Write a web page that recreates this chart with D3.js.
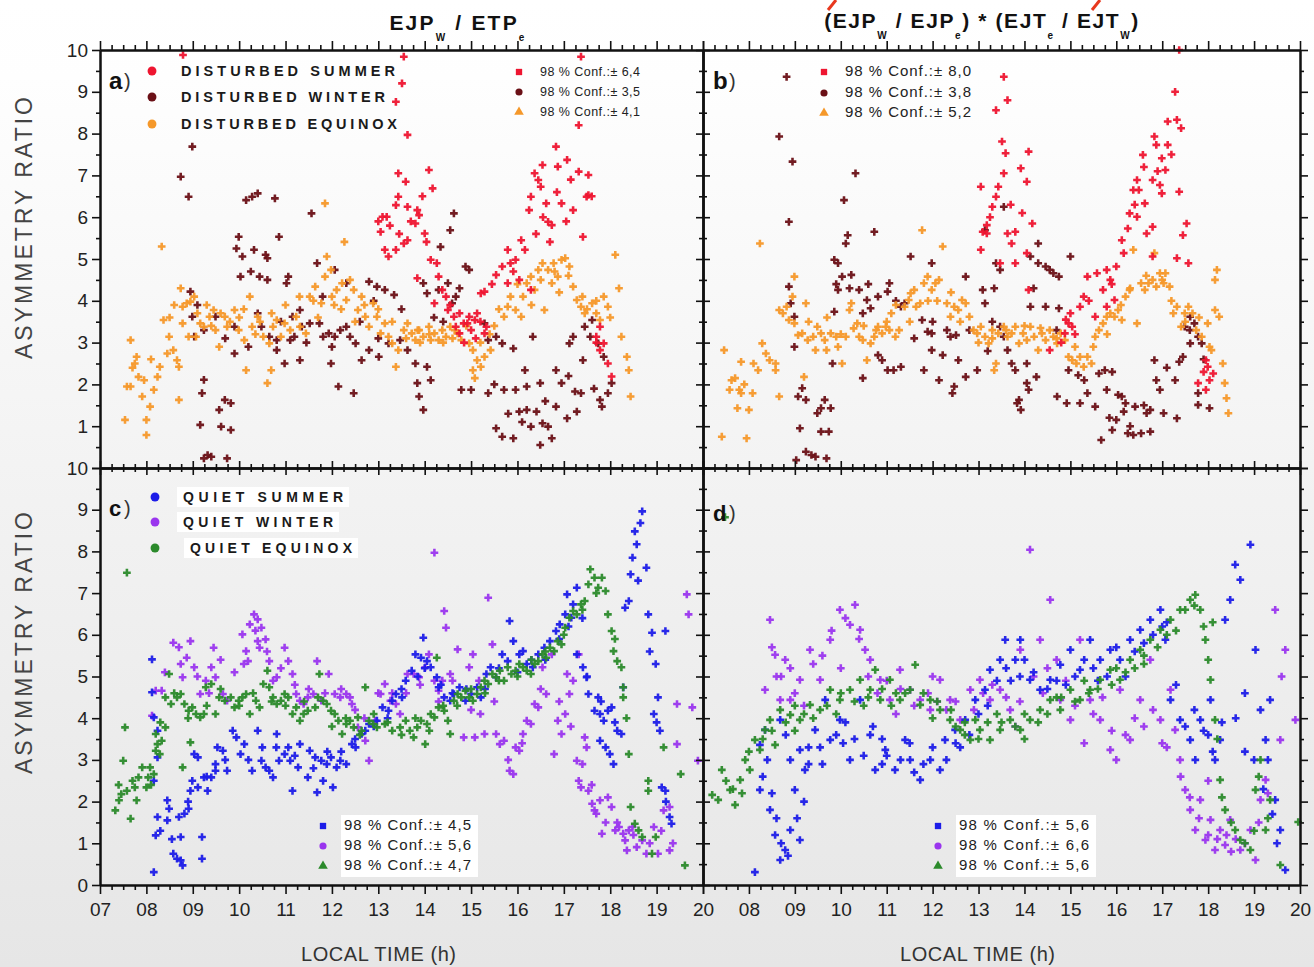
<!DOCTYPE html>
<html><head><meta charset="utf-8">
<script src="https://cdn.jsdelivr.net/npm/d3@7"></script>
<style>html,body{margin:0;padding:0;background:#fff}svg{display:block}</style>
</head><body><svg id="c" width="1314" height="967"></svg>
<script>
// ---------- DATA ----------
const hourTicks = [7,8,9,10,11,12,13,14,15,16,17,18,19,20];
const hourLabelsLeft = ["07","08","09","10","11","12","13","14","15","16","17","18","19","20"];
const hourLabelsRight = ["","08","09","10","11","12","13","14","15","16","17","18","19","20"];
const ratioTicks = [0,1,2,3,4,5,6,7,8,9,10];
const ratioLabelsTop = ["","1","2","3","4","5","6","7","8","9","10"];
const ratioLabelsBottom = ["0","1","2","3","4","5","6","7","8","9","10"];

const disturbedNames = ["DISTURBED SUMMER","DISTURBED WINTER","DISTURBED EQUINOX"];
const quietNames = ["QUIET SUMMER","QUIET WINTER","QUIET EQUINOX"];
const confA = ["6,4","3,5","4,1"];
const confB = ["8,0","3,8","5,2"];
const confC = ["4,5","5,6","4,7"];
const confD = ["5,6","6,6","5,6"];

// Panel a : EJPw / ETPe, disturbed
const dsA = [[8.79,9.88],[13.55,9.84],[13.51,9.2],[13.38,8.76],[13.63,7.97],[17.37,9.84],[17.32,8.2],[16.83,7.69],[16.87,7.21],[17.07,7.37],[16.54,7.25],[16.37,7.05],[16.45,6.89],[16.5,6.73],[16.29,6.49],[16.62,6.33],[16.95,6.33],[17.32,7.09],[17.53,7.01],[17.49,6.49],[17.53,6.53],[17.2,6.17],[16.25,6.17],[16.66,5.89],[16.74,5.81],[16.7,5.41],[17.41,5.53],[16.08,5.45],[16.16,5.22],[15.79,5.22],[15.96,4.98],[15.67,4.82],[15.54,4.62],[15.91,4.7],[15.79,4.42],[16.04,4.5],[16.29,4.26],[15.29,4.22],[15.21,4.18],[15.13,3.7],[14.96,3.62],[14.84,3.46],[14.67,3.38],[14.75,3.22],[15.08,3.54],[15.29,3.22],[15.33,3.38],[17.78,3.38],[17.7,3.14],[17.86,2.98],[17.95,2.5],[18.03,2.19],[17.78,2.82],[13.09,6.01],[13.18,6.01],[13.05,5.65],[13.43,6.49],[13.38,6.29],[13.63,6.25],[13.8,5.85],[13.88,6.05],[13.84,6.17],[14.0,5.61],[14.04,5.41],[13.14,5.22],[13.22,5.06],[13.38,5.22],[13.55,5.37],[13.63,5.45],[14.09,7.13],[14.17,6.69],[13.43,7.05],[13.59,6.85],[14.13,4.98],[14.26,4.9],[14.3,4.58],[13.84,4.54],[14.38,4.26],[14.46,4.1],[14.21,3.94],[14.5,3.78],[14.63,3.62],[14.75,3.7],[14.92,3.46],[15.0,3.3],[15.1,3.1],[14.85,3.0],[13.0,5.9],[17.05,5.9],[16.4,5.6],[17.6,6.5],[13.25,5.8],[13.7,5.9],[13.95,6.5],[16.55,6.0],[16.85,6.6],[17.15,6.9],[15.85,4.9],[15.45,4.4],[14.55,3.9],[15.2,3.5],[13.45,5.6],[17.7,3.0]];
const dwA = [[8.74,6.97],[8.99,7.69],[8.91,6.49],[10.15,6.41],[10.28,6.49],[10.4,6.57],[10.77,6.45],[11.56,6.09],[9.99,5.53],[10.86,5.53],[9.94,5.25],[10.07,5.06],[10.32,5.22],[10.57,5.1],[10.61,5.02],[10.03,4.58],[10.44,4.58],[10.61,4.5],[11.06,4.58],[11.02,4.42],[11.68,4.9],[12.06,4.74],[12.31,4.42],[12.8,4.46],[12.97,4.34],[13.14,4.26],[13.34,4.14],[8.95,4.22],[8.99,3.62],[9.49,3.62],[9.24,3.3],[9.03,3.14],[9.9,3.38],[10.4,3.7],[10.48,3.38],[10.65,3.14],[10.81,3.06],[10.81,2.82],[11.1,3.06],[11.19,3.14],[11.15,3.62],[11.31,3.78],[11.35,3.38],[11.52,3.46],[11.73,3.46],[11.81,3.14],[11.93,3.22],[12.06,3.14],[12.18,3.3],[12.31,3.38],[12.39,3.14],[12.51,2.98],[12.64,2.58],[12.8,2.82],[13.01,2.66],[13.22,2.98],[13.47,3.06],[13.63,2.82],[13.8,2.5],[14.05,2.42],[14.13,2.1],[13.84,2.03],[13.88,1.71],[13.97,1.39],[10.98,2.5],[11.31,2.58],[11.98,2.5],[12.14,1.95],[12.47,1.79],[9.24,2.11],[9.2,1.79],[9.16,1.03],[9.57,1.39],[9.69,1.63],[9.82,1.55],[9.61,0.99],[9.82,0.91],[9.32,0.31],[9.4,0.27],[9.24,0.23],[9.74,0.23],[9.9,2.74],[13.97,4.42],[14.05,4.18],[14.3,4.26],[14.5,4.42],[14.59,3.94],[14.67,4.1],[14.75,4.3],[14.88,4.82],[14.96,4.74],[14.55,5.69],[14.63,6.09],[14.34,5.29],[15.29,3.46],[15.37,3.06],[15.54,3.14],[15.67,2.98],[15.91,2.86],[16.33,3.14],[14.79,1.87],[15.0,1.87],[15.37,1.79],[15.71,1.87],[15.96,1.87],[16.2,1.95],[16.49,2.03],[16.83,2.34],[16.95,2.03],[16.16,2.34],[15.54,0.95],[15.67,0.75],[15.91,0.71],[16.04,1.35],[16.2,1.39],[16.41,1.35],[16.29,0.99],[16.54,1.07],[16.66,0.99],[16.49,0.55],[16.74,0.71],[16.83,1.47],[17.07,1.19],[17.28,1.35],[17.24,1.83],[17.37,1.79],[17.41,2.58],[17.12,2.98],[17.2,3.14],[17.45,3.38],[17.61,3.54],[17.57,3.14],[17.74,2.98],[17.86,2.66],[17.78,1.63],[17.95,1.79],[17.82,1.47],[18.03,2.03],[9.1,3.9],[9.7,3.1],[10.25,4.7],[10.9,3.5],[11.45,3.0],[12.0,2.9],[12.6,3.5],[13.0,3.1],[13.5,3.8],[14.2,3.6],[14.4,3.5],[15.5,2.0],[15.8,1.3],[16.1,1.1],[16.6,1.6],[17.1,2.2],[17.65,1.9],[12.9,4.0],[11.8,4.1],[10.2,2.9]];
const deA = [[7.54,1.15],[7.58,1.95],[7.66,1.95],[7.75,2.5],[7.79,2.66],[7.83,2.18],[7.66,3.06],[7.91,1.71],[8.0,1.15],[8.0,0.79],[8.08,1.47],[8.16,1.87],[8.24,2.18],[8.29,2.42],[8.45,2.74],[8.49,3.14],[8.58,2.82],[8.66,2.58],[8.7,2.42],[8.7,1.63],[8.33,5.3],[8.37,3.54],[8.74,4.3],[8.78,3.86],[8.87,3.94],[8.95,3.98],[9.03,4.1],[8.78,3.46],[8.91,3.14],[9.07,3.14],[9.16,3.46],[9.24,3.38],[9.36,3.62],[9.45,3.78],[9.49,3.3],[9.57,2.9],[9.69,3.62],[9.74,3.38],[9.9,3.78],[9.99,3.3],[10.11,3.06],[10.23,4.1],[10.28,3.38],[10.4,3.62],[10.52,3.14],[10.65,2.98],[10.69,2.34],[10.73,3.38],[10.81,3.54],[10.9,3.14],[10.98,3.46],[10.15,2.34],[10.61,2.03],[11.23,3.62],[11.31,3.38],[11.44,3.22],[11.52,4.1],[11.64,4.34],[11.77,3.94],[11.85,4.58],[11.89,5.06],[11.98,4.74],[12.1,4.26],[12.22,4.42],[12.31,4.02],[12.39,4.5],[12.47,4.26],[12.56,3.78],[12.64,4.1],[12.72,3.62],[12.8,3.38],[12.89,3.94],[12.97,3.62],[13.05,3.22],[13.14,3.46],[13.22,3.14],[13.3,2.98],[13.38,2.42],[13.43,2.82],[11.85,6.33],[12.27,5.41],[13.55,3.3],[13.63,3.46],[13.72,3.22],[13.8,3.06],[13.88,3.3],[13.97,3.14],[14.09,3.38],[14.13,3.06],[14.21,3.22],[14.3,3.06],[14.38,3.3],[14.46,3.14],[14.55,3.38],[14.71,3.22],[14.79,3.06],[14.96,2.98],[15.04,2.82],[15.13,2.58],[15.21,2.42],[15.29,2.66],[15.42,2.82],[15.04,2.34],[15.08,2.15],[15.71,3.62],[15.79,3.86],[15.96,3.78],[16.08,3.62],[16.12,4.1],[16.2,4.42],[16.29,4.58],[16.37,4.26],[16.45,4.74],[16.54,4.9],[16.66,4.74],[16.74,4.42],[16.78,4.9],[16.87,4.58],[16.95,4.98],[17.03,5.02],[17.12,4.82],[17.2,4.34],[17.28,4.02],[17.37,3.86],[17.45,3.7],[17.61,3.94],[17.7,3.7],[17.86,4.1],[17.95,3.86],[17.78,3.54],[18.11,5.1],[18.19,4.3],[18.24,3.14],[18.36,2.66],[18.4,2.34],[18.44,1.71],[16.58,3.78],[9.3,3.9],[9.6,3.7],[10.0,3.6],[10.35,3.2],[11.1,3.3],[11.7,3.6],[12.05,3.9],[12.5,3.5],[13.9,3.0],[14.6,3.1],[15.5,3.4],[16.3,3.9],[16.9,4.2],[8.5,3.6],[8.6,3.9],[9.1,3.7],[9.4,3.4],[9.8,3.5],[10.1,3.8],[10.45,3.5],[10.7,3.7],[11.0,3.9],[11.3,4.1],[11.6,4.0],[12.0,4.1],[12.2,3.8],[12.7,3.9],[13.0,3.8],[13.3,3.5],[13.6,3.1],[13.85,3.3],[14.1,3.2],[14.4,3.0],[14.65,3.3],[14.9,3.4],[15.2,3.0],[15.4,3.2],[15.6,3.8],[15.85,4.1],[16.0,4.4],[16.5,4.5],[16.8,4.7],[17.1,4.6],[17.4,4.1],[17.5,3.8],[17.7,4.0],[18.0,3.6],[8.1,2.6],[7.7,2.4],[7.95,2.1]];

// Panel b : (EJPw/EJPe)*(EJTe/EJTw), disturbed
const dsB = [[13.55,9.36],[13.63,8.8],[13.38,8.56],[13.51,7.81],[13.59,7.53],[13.55,7.05],[14.09,7.57],[13.92,7.17],[14.05,6.85],[13.05,6.73],[13.43,6.73],[13.38,6.49],[13.3,6.25],[13.18,5.81],[13.09,5.65],[13.18,5.61],[13.63,5.61],[13.8,5.65],[13.72,5.37],[14.17,5.85],[13.05,5.22],[13.47,4.9],[13.8,4.9],[14.05,5.14],[14.09,4.26],[17.28,9.0],[17.32,8.33],[17.12,8.29],[17.41,8.13],[16.83,7.93],[16.87,7.73],[17.12,7.73],[16.58,7.49],[16.99,7.41],[17.07,7.13],[16.45,6.89],[16.79,6.89],[16.37,6.65],[16.49,6.65],[16.95,6.77],[16.99,6.57],[17.37,6.61],[16.62,6.33],[16.29,6.09],[16.45,6.01],[16.79,5.77],[16.66,5.61],[17.53,5.85],[17.45,5.57],[16.25,5.73],[16.12,5.45],[16.16,5.14],[17.32,5.02],[17.57,4.9],[16.79,5.06],[16.0,4.82],[15.79,4.74],[15.58,4.66],[15.87,4.5],[15.37,4.58],[15.71,4.26],[15.96,4.02],[15.79,3.86],[15.29,4.1],[15.21,3.86],[15.54,3.62],[15.04,3.38],[14.96,3.46],[14.88,3.22],[14.55,2.82],[17.78,2.03],[18.03,2.1],[17.99,2.42],[17.95,2.58],[18.11,2.26],[17.95,1.87],[17.37,10.0],[14.9,3.55],[15.1,3.2],[13.25,6.0],[13.7,6.3],[13.95,6.1],[16.6,7.2],[16.9,7.1],[17.2,7.5],[16.4,6.3],[15.9,4.4],[15.4,4.0],[15.0,3.7],[14.8,3.0],[17.9,2.3]];
const dwB = [[8.82,9.36],[8.66,7.93],[8.95,7.33],[8.87,5.89],[10.32,7.05],[10.07,6.41],[10.15,5.57],[10.11,5.37],[10.73,5.65],[11.52,5.06],[11.98,4.9],[9.86,4.98],[9.94,4.9],[10.03,4.58],[10.23,4.62],[10.19,4.3],[9.94,4.26],[10.4,4.26],[10.57,4.02],[10.81,4.1],[11.06,4.42],[11.02,4.22],[8.87,4.34],[8.91,3.94],[8.99,3.62],[8.99,2.9],[9.86,3.74],[9.82,2.5],[10.48,3.7],[10.65,3.82],[10.81,2.7],[10.9,2.58],[11.02,2.34],[11.15,2.34],[11.31,2.42],[10.48,2.15],[11.31,3.86],[11.39,3.94],[11.77,3.54],[11.89,3.26],[11.98,3.22],[12.31,3.3],[12.39,3.14],[12.51,3.18],[11.81,2.34],[12.14,2.1],[12.43,1.79],[12.47,1.95],[11.98,2.82],[12.22,2.7],[12.56,2.58],[12.72,2.18],[12.97,2.34],[12.72,4.58],[13.09,4.26],[13.14,3.94],[13.34,4.3],[13.38,4.9],[13.47,4.74],[13.55,6.25],[13.14,5.69],[13.3,3.5],[13.47,3.38],[13.55,3.14],[13.63,2.82],[13.72,2.5],[13.8,2.34],[14.05,2.03],[14.09,1.87],[13.88,1.63],[13.84,1.55],[13.92,1.39],[14.13,5.06],[14.3,4.9],[14.46,4.82],[14.55,4.74],[14.63,4.66],[14.75,4.58],[14.3,5.37],[15.0,5.06],[14.13,3.86],[14.46,3.86],[14.75,3.82],[14.05,2.5],[14.26,2.18],[14.96,2.34],[15.17,2.22],[14.71,1.71],[14.92,1.55],[15.21,1.55],[15.37,1.79],[15.54,1.47],[15.62,2.26],[15.75,2.34],[15.91,2.3],[15.79,1.87],[16.04,1.75],[16.12,1.71],[16.2,1.55],[16.41,1.47],[16.16,1.35],[15.67,0.67],[15.91,0.91],[16.0,1.15],[16.25,0.83],[16.37,0.79],[16.54,0.83],[16.74,0.87],[16.66,1.31],[16.74,1.39],[16.95,1.87],[17.03,1.31],[16.87,2.1],[16.83,2.58],[17.28,2.1],[17.32,1.19],[17.37,2.54],[17.45,2.66],[17.49,3.38],[17.61,3.62],[17.7,3.46],[17.78,3.14],[17.61,2.98],[17.86,2.98],[17.78,1.51],[18.03,1.43],[17.78,1.79],[9.16,1.91],[9.07,1.71],[9.24,1.63],[9.11,0.95],[9.49,1.31],[9.57,1.43],[9.65,1.63],[9.78,1.43],[9.57,0.87],[9.74,0.87],[9.24,0.39],[9.36,0.31],[9.45,0.27],[9.69,0.23],[9.03,0.19],[9.9,4.4],[10.6,4.4],[11.2,4.0],[11.6,3.1],[12.0,3.5],[12.8,3.3],[13.2,2.8],[14.2,4.3],[14.7,3.3],[15.3,2.1],[15.85,1.2],[16.3,1.0],[16.6,1.5],[17.1,2.4],[17.6,3.3],[17.9,2.6]];
const deB = [[7.46,2.82],[7.41,0.75],[7.62,2.1],[7.7,2.15],[7.58,1.87],[7.79,1.87],[7.83,1.79],[7.75,1.43],[8.0,1.39],[8.08,1.79],[7.95,0.71],[7.83,2.54],[8.24,5.37],[8.2,2.34],[8.29,2.98],[8.37,2.74],[8.45,2.58],[8.58,2.5],[8.58,2.34],[8.66,1.71],[8.66,3.78],[8.74,3.7],[8.82,3.86],[8.87,3.54],[8.99,3.46],[8.99,4.58],[8.95,4.1],[9.07,3.18],[9.16,3.22],[9.2,2.18],[9.24,3.94],[9.28,3.06],[9.4,3.14],[9.45,2.82],[9.49,3.38],[9.57,3.22],[9.65,3.06],[9.69,2.82],[9.78,3.22],[9.9,3.14],[9.94,2.9],[10.03,2.5],[10.11,3.14],[10.19,3.78],[10.23,3.94],[10.28,3.34],[10.36,3.46],[10.4,3.14],[10.48,3.06],[10.57,2.58],[10.65,2.98],[10.73,3.14],[10.77,3.3],[10.81,3.38],[10.9,3.22],[10.98,3.38],[11.06,3.3],[11.1,3.7],[11.19,3.14],[11.27,3.3],[11.39,3.86],[11.48,4.02],[11.52,4.18],[11.6,4.26],[11.64,3.86],[11.73,3.94],[11.77,5.69],[11.81,4.42],[11.89,4.58],[11.98,4.26],[12.06,4.42],[12.14,4.5],[12.22,5.3],[12.31,3.94],[12.39,3.62],[12.47,3.86],[12.56,3.78],[12.64,4.02],[12.72,3.94],[12.8,3.62],[12.89,3.3],[12.97,3.22],[13.05,3.38],[13.14,3.14],[13.22,2.98],[13.3,3.3],[13.34,2.34],[13.38,2.5],[13.43,3.22],[13.55,3.38],[13.63,3.14],[13.72,3.22],[13.8,3.38],[13.88,2.98],[13.97,3.22],[14.05,3.06],[14.13,3.38],[14.21,3.14],[14.3,2.82],[14.38,3.22],[14.46,3.06],[14.55,3.3],[14.63,3.14],[14.71,2.98],[14.79,3.22],[14.88,3.06],[14.96,2.66],[15.04,2.58],[15.13,2.5],[15.21,2.66],[15.29,2.42],[15.37,2.66],[15.46,2.5],[15.54,3.14],[15.62,3.3],[15.71,3.46],[15.79,3.62],[15.87,3.7],[15.96,3.62],[16.04,3.78],[16.12,3.54],[16.2,4.1],[16.29,4.26],[16.37,5.22],[16.45,3.46],[16.54,4.42],[16.62,4.26],[16.7,4.42],[16.79,4.5],[16.83,5.14],[16.87,4.34],[16.95,4.66],[17.03,4.42],[17.07,4.66],[17.16,4.34],[17.24,3.7],[17.32,3.86],[17.41,3.38],[17.49,3.7],[17.57,3.86],[17.66,3.7],[17.74,3.3],[17.86,3.14],[18.03,2.9],[18.15,3.78],[18.24,3.62],[18.15,4.5],[18.19,4.74],[18.32,2.5],[18.36,2.03],[18.4,1.67],[18.44,1.31],[17.99,3.46],[18.07,2.82],[9.3,3.5],[9.7,3.6],[10.0,3.2],[10.5,3.4],[11.0,3.5],[11.2,3.9],[11.5,3.5],[11.9,4.0],[12.1,4.0],[12.4,4.2],[12.6,3.5],[13.0,3.0],[13.3,3.1],[13.6,3.3],[14.0,3.4],[14.35,3.35],[14.7,3.1],[15.1,2.9],[15.5,2.9],[15.8,3.2],[16.1,3.9],[16.3,4.3],[16.65,4.6],[17.0,4.5],[17.2,4.0],[17.5,3.5],[17.8,3.6],[7.9,2.0],[8.1,2.5]];

// Panel c : EJPw / ETPe, quiet
const qsC = [[8.12,5.41],[8.12,4.62],[8.16,4.02],[8.24,3.7],[8.24,3.06],[8.16,2.5],[8.24,1.63],[8.2,1.19],[8.16,0.31],[8.45,2.03],[8.49,1.83],[8.45,1.55],[8.58,0.75],[8.66,0.63],[8.74,0.59],[8.78,0.47],[8.7,1.63],[8.74,1.15],[8.82,1.71],[8.91,1.83],[8.95,2.26],[8.99,2.5],[9.03,3.14],[9.11,3.06],[9.2,1.15],[9.2,0.63],[9.11,2.34],[9.24,2.58],[9.32,2.26],[9.4,2.58],[9.49,2.74],[9.49,2.9],[9.53,3.3],[9.65,3.22],[9.74,2.74],[9.86,3.7],[9.94,3.54],[10.03,3.14],[10.11,3.38],[10.28,2.74],[10.4,3.7],[10.48,2.98],[10.57,2.82],[10.65,2.74],[10.73,2.58],[10.81,3.62],[10.86,2.98],[10.98,3.14],[11.06,3.3],[11.1,2.98],[11.15,2.26],[11.27,2.82],[11.31,3.38],[11.48,2.58],[11.52,3.22],[11.64,3.06],[11.68,2.22],[11.77,2.98],[11.81,2.5],[11.89,2.9],[11.98,3.06],[12.02,2.34],[12.1,2.82],[12.18,2.98],[12.31,2.9],[12.43,3.38],[12.51,3.3],[12.64,3.62],[12.72,3.7],[12.8,3.86],[12.97,3.94],[13.09,4.26],[13.22,4.18],[13.3,4.42],[13.38,4.58],[13.51,4.5],[13.59,4.9],[13.72,5.14],[13.8,5.53],[13.92,5.45],[13.97,5.93],[14.05,5.37],[14.13,5.22],[14.26,4.98],[14.3,4.74],[14.42,4.5],[14.55,4.42],[14.63,4.58],[14.75,4.74],[14.88,4.42],[15.0,4.58],[15.13,4.74],[15.21,4.5],[15.33,5.06],[15.42,5.22],[15.54,4.98],[15.67,5.53],[15.79,5.37],[15.83,6.33],[15.91,5.85],[16.04,5.53],[16.12,5.61],[16.2,5.3],[16.33,5.22],[16.45,5.53],[16.58,5.69],[16.7,5.85],[16.83,6.09],[16.91,6.25],[17.03,6.49],[17.07,6.97],[17.2,6.73],[17.28,7.13],[17.16,6.41],[17.28,5.53],[17.41,5.22],[17.49,4.98],[17.53,4.58],[17.66,4.18],[17.74,4.5],[17.78,4.1],[17.86,3.94],[17.95,4.18],[18.03,4.26],[17.78,3.46],[17.9,3.3],[17.99,3.14],[18.07,2.9],[18.15,3.7],[18.24,3.62],[18.28,4.74],[18.32,6.65],[18.4,6.81],[18.44,7.45],[18.48,7.85],[18.57,8.17],[18.53,8.48],[18.65,8.68],[18.69,8.96],[18.78,7.61],[18.82,6.49],[18.9,6.05],[18.98,5.3],[19.03,4.5],[18.94,4.1],[19.07,3.7],[19.19,6.09],[19.11,2.34],[19.19,2.26],[19.28,1.63],[19.32,1.47],[8.3,1.3],[8.55,1.1],[8.9,2.0],[9.3,2.6],[9.7,3.0],[10.2,3.0],[10.5,3.3],[10.8,3.3],[11.2,3.1],[11.6,2.8],[11.9,3.2],[12.2,3.2],[12.5,3.5],[12.9,3.8],[13.2,4.0],[13.5,4.7],[13.85,5.0],[14.0,5.2],[14.35,4.8],[14.6,4.6],[14.9,4.7],[15.3,4.7],[15.6,5.2],[16.0,5.1],[16.3,5.4],[16.6,5.4],[16.9,5.9],[17.1,6.2],[17.4,6.4],[17.5,5.0],[17.8,4.4],[18.1,3.9],[18.6,7.3],[18.85,5.6],[19.0,3.9],[19.2,2.0]];
const qwC = [[8.12,4.06],[8.2,4.66],[8.33,4.66],[8.58,5.81],[8.74,5.3],[8.87,5.45],[8.95,5.85],[9.03,5.22],[8.78,4.98],[9.16,4.58],[9.28,4.9],[9.4,5.22],[9.45,5.69],[9.49,4.98],[9.65,4.58],[9.74,4.42],[10.07,6.01],[10.15,5.61],[10.19,5.37],[10.23,6.25],[10.32,6.49],[10.4,6.37],[10.48,6.17],[10.57,5.89],[10.4,5.85],[10.44,5.69],[10.65,5.37],[10.73,4.9],[10.81,4.98],[10.98,5.69],[11.06,5.37],[11.15,5.06],[11.23,4.58],[11.31,4.42],[11.39,4.34],[11.48,4.5],[11.6,4.58],[11.68,5.37],[11.77,4.42],[11.93,5.06],[12.06,4.58],[12.18,4.5],[12.31,4.58],[12.39,4.5],[12.43,4.34],[12.56,3.78],[12.72,3.46],[12.8,2.98],[12.93,3.94],[13.05,4.58],[13.14,4.82],[13.26,4.42],[13.38,4.34],[13.47,4.1],[13.63,5.06],[13.76,5.06],[13.88,4.98],[14.01,5.22],[14.09,5.53],[14.21,7.97],[14.21,4.9],[14.3,4.66],[14.38,4.9],[14.42,6.57],[14.46,6.17],[14.55,5.06],[14.71,5.65],[14.84,3.54],[14.96,5.22],[15.04,5.53],[15.08,3.54],[15.17,4.9],[15.29,3.62],[15.37,6.89],[15.46,5.77],[15.54,3.62],[15.62,3.38],[15.71,3.46],[15.83,2.74],[15.91,2.66],[15.96,3.3],[16.04,3.22],[16.12,3.62],[16.2,3.94],[16.29,3.86],[16.37,4.34],[16.45,4.26],[16.54,5.22],[16.62,4.58],[16.74,5.53],[16.79,3.14],[16.87,3.94],[16.95,3.62],[17.03,4.1],[17.07,5.06],[17.12,4.58],[17.2,4.9],[17.32,5.53],[17.28,2.98],[17.32,2.5],[17.37,2.34],[17.45,3.54],[17.49,3.3],[17.53,2.26],[17.61,1.95],[17.66,1.79],[17.7,1.71],[17.78,2.03],[17.82,1.23],[17.95,2.1],[18.03,1.87],[18.11,1.31],[18.19,1.39],[18.28,1.23],[18.32,1.07],[18.4,1.31],[18.48,1.39],[18.36,0.83],[18.57,0.91],[18.69,1.07],[18.78,0.75],[18.94,1.39],[19.03,0.75],[19.15,1.79],[19.28,1.87],[19.28,0.83],[19.44,3.38],[19.44,4.34],[19.65,6.97],[19.69,6.49],[19.77,4.26],[19.89,2.98],[8.4,5.1],[8.7,5.7],[9.1,5.0],[9.35,4.6],[9.6,5.4],[9.9,5.1],[10.1,5.3],[10.35,6.1],[10.6,5.6],[10.9,5.2],[11.2,4.8],[11.5,4.7],[11.85,4.6],[12.2,4.7],[12.5,4.2],[12.7,4.0],[13.0,4.6],[13.3,4.6],[13.6,4.6],[13.9,4.8],[14.3,4.4],[14.6,4.9],[15.0,4.2],[15.2,4.1],[15.5,4.4],[15.8,3.0],[16.1,3.4],[16.5,4.7],[16.9,4.4],[17.15,3.8],[17.4,2.9],[17.6,2.4],[17.9,1.5],[18.15,1.5],[18.5,1.2],[18.85,1.0],[19.1,1.3],[19.35,1.0]];
const qeC = [[7.58,7.49],[7.54,3.78],[7.5,2.98],[7.33,1.79],[7.41,2.03],[7.46,2.18],[7.58,2.26],[7.66,1.59],[7.75,2.34],[7.79,2.03],[7.83,2.58],[7.91,2.82],[8.0,2.34],[8.04,2.58],[8.08,2.82],[8.16,2.66],[8.2,3.22],[8.2,3.62],[8.24,3.38],[8.29,3.14],[8.33,3.46],[8.41,3.78],[8.41,4.5],[8.49,5.06],[8.53,4.34],[8.66,4.5],[8.74,4.58],[8.78,2.82],[8.82,4.34],[8.91,4.18],[8.99,4.26],[8.95,3.42],[9.07,4.1],[9.16,4.02],[9.24,4.1],[9.28,4.74],[9.4,4.82],[9.49,4.1],[9.57,4.5],[9.69,4.42],[9.82,4.5],[9.9,4.26],[9.99,4.42],[10.07,4.5],[10.15,4.58],[10.23,4.1],[10.36,4.42],[10.44,4.26],[10.52,4.82],[10.61,5.14],[10.65,4.74],[10.73,4.5],[10.81,4.34],[10.9,4.42],[10.98,4.58],[11.06,4.5],[11.15,4.1],[11.23,4.26],[11.31,3.94],[11.39,4.1],[11.48,4.18],[11.64,4.26],[11.73,5.06],[11.81,4.42],[11.89,4.34],[11.98,4.18],[12.06,4.1],[12.14,3.94],[12.22,3.62],[12.31,3.86],[12.39,3.94],[12.47,3.78],[12.56,4.02],[12.64,3.7],[12.72,4.74],[12.8,3.94],[12.89,3.86],[12.97,3.78],[13.14,3.86],[13.3,3.7],[13.47,3.78],[13.59,3.94],[13.68,3.7],[13.76,3.54],[13.84,3.78],[13.92,3.94],[14.01,3.38],[14.05,3.86],[14.13,4.1],[14.21,4.02],[14.26,5.45],[14.3,4.26],[14.42,4.18],[14.5,3.94],[14.55,3.62],[14.63,4.42],[14.71,4.58],[14.79,4.5],[14.88,4.66],[14.96,4.5],[15.04,4.42],[15.13,4.58],[15.21,4.74],[15.29,4.9],[15.37,4.82],[15.46,5.06],[15.54,4.98],[15.62,5.14],[15.71,4.9],[15.79,5.22],[15.87,5.06],[15.96,5.14],[16.04,5.3],[16.12,5.22],[16.2,5.14],[16.29,5.06],[16.37,5.3],[16.45,5.37],[16.54,5.53],[16.62,5.45],[16.7,5.69],[16.79,5.61],[16.87,5.85],[16.95,5.77],[17.03,6.17],[17.12,6.41],[17.2,6.57],[17.28,6.49],[17.37,6.73],[17.45,6.81],[17.53,7.21],[17.57,7.57],[17.66,7.37],[17.74,7.13],[17.82,7.37],[17.9,7.05],[17.95,6.49],[18.03,6.09],[18.07,5.61],[18.15,5.37],[18.24,5.22],[18.28,4.74],[18.28,4.5],[18.4,3.14],[18.44,1.87],[18.53,1.47],[18.61,1.31],[18.69,1.15],[18.82,2.5],[18.82,2.26],[18.9,0.75],[18.98,1.15],[19.15,3.3],[19.52,2.66],[19.61,0.47],[7.4,2.4],[7.7,2.5],[8.1,2.4],[8.3,3.9],[8.6,4.6],[8.9,4.0],[9.3,4.3],[9.6,4.7],[10.0,4.3],[10.3,4.6],[10.7,4.4],[11.0,4.3],[11.4,4.4],[11.7,4.5],[12.0,3.8],[12.3,4.0],[12.6,3.6],[12.9,4.1],[13.2,3.9],[13.5,3.6],[13.8,4.0],[14.1,3.7],[14.4,4.3],[14.7,4.3],[15.0,4.7],[15.3,4.6],[15.6,4.9],[16.0,5.0],[16.3,5.4],[16.6,5.6],[17.0,6.0],[17.4,6.6],[17.7,7.0],[18.1,5.9],[18.35,4.0]];

// Panel d : (EJPw/EJPe)*(EJTe/EJTw), quiet
const qsD = [[8.13,0.31],[8.46,1.8],[8.57,1.2],[8.68,0.6],[8.79,0.84],[8.24,2.28],[8.9,1.32],[9.11,1.08],[9.0,2.28],[9.22,2.76],[8.24,3.36],[8.35,3.72],[8.68,3.96],[8.9,3.0],[9.11,3.24],[9.44,3.72],[9.66,4.44],[9.77,3.48],[9.98,3.96],[10.2,3.0],[10.42,4.44],[10.64,3.6],[10.75,2.76],[10.97,3.24],[11.18,2.76],[11.4,3.48],[11.51,3.0],[11.73,2.52],[11.95,3.0],[12.16,2.76],[12.27,3.48],[12.49,3.72],[12.71,3.96],[12.93,4.44],[13.14,4.68],[13.25,5.16],[13.47,5.4],[13.58,5.88],[13.8,5.4],[13.91,5.88],[14.12,4.92],[14.34,4.68],[14.56,4.92],[14.78,5.28],[15.0,5.64],[15.21,5.16],[15.43,5.88],[15.65,5.4],[15.87,5.64],[16.08,5.4],[16.3,5.88],[16.52,6.12],[16.74,6.36],[16.96,6.6],[17.07,5.88],[17.18,4.44],[17.39,3.96],[17.61,3.48],[17.72,3.0],[17.83,3.96],[18.05,4.44],[18.15,3.0],[18.26,3.48],[18.37,6.36],[18.48,6.84],[18.59,7.68],[18.7,7.32],[18.92,8.16],[19.03,5.64],[19.14,4.2],[19.25,3.48],[19.35,4.44],[19.46,2.04],[19.57,1.32],[19.68,0.36],[9.3,2.9],[9.55,3.3],[10.05,3.4],[10.9,2.9],[11.6,2.7],[12.6,3.3],[13.7,4.9],[14.9,4.8],[15.6,4.9],[16.2,5.0],[17.0,6.2],[18.0,3.6],[18.8,4.6],[19.2,2.3],[8.3,2.6],[8.5,2.2],[8.6,1.6],[8.7,1.0],[8.85,0.7],[9.05,1.6],[9.2,2.0],[8.4,3.0],[8.8,3.6],[9.3,3.3],[9.6,2.9],[9.9,3.6],[10.1,3.9],[10.3,3.5],[10.5,3.1],[10.7,3.8],[10.9,3.5],[11.0,3.1],[11.3,3.0],[11.5,3.4],[11.8,2.9],[12.0,3.3],[12.3,3.0],[12.5,3.4],[12.8,3.6],[13.0,4.1],[13.2,4.3],[13.4,4.9],[13.6,5.2],[13.9,5.0],[14.0,5.4],[14.2,5.1],[14.5,4.7],[14.7,4.9],[15.1,5.0],[15.3,5.4],[15.5,5.2],[15.8,5.0],[16.0,5.7],[16.4,5.6],[16.6,5.8],[16.8,6.0],[17.1,6.3],[17.3,4.8],[17.5,3.8],[17.7,4.2],[17.9,3.7],[18.1,3.2],[18.3,3.9],[18.6,4.0],[18.8,3.2],[19.0,3.0],[19.3,3.0],[19.4,1.7],[19.5,1.0]];
const qwD = [[8.46,6.36],[8.57,5.52],[8.79,5.4],[8.9,4.44],[8.35,4.68],[8.68,4.44],[9.11,4.92],[9.33,5.64],[9.55,4.92],[9.77,5.88],[9.98,6.6],[10.2,6.24],[10.31,6.72],[10.42,6.12],[10.53,5.64],[10.64,5.4],[10.86,4.92],[11.07,4.44],[11.29,5.16],[11.51,4.68],[11.73,4.44],[11.95,4.2],[12.16,4.92],[12.38,4.44],[12.6,3.96],[12.82,4.68],[13.03,4.92],[13.25,4.44],[13.47,4.68],[13.69,4.2],[13.91,5.64],[14.12,8.04],[14.34,5.88],[14.56,6.84],[14.78,4.44],[15.0,3.96],[15.21,5.88],[15.43,4.44],[15.65,3.96],[15.87,3.24],[16.08,4.68],[16.3,3.48],[16.52,4.44],[16.74,5.4],[16.96,3.96],[17.18,4.68],[17.28,3.72],[17.39,3.0],[17.5,2.28],[17.61,1.8],[17.72,1.32],[17.83,2.04],[17.94,1.08],[18.05,1.56],[18.15,0.84],[18.26,1.32],[18.37,0.96],[18.48,1.56],[18.7,0.84],[18.92,1.32],[19.03,0.6],[19.14,2.04],[19.25,2.52],[19.46,6.6],[19.57,3.48],[19.68,5.64],[19.9,3.96],[8.6,5.0],[9.2,4.3],[10.0,5.2],[11.2,4.1],[12.0,5.0],[13.8,3.8],[14.5,5.2],[15.3,3.4],[16.0,3.0],[16.6,3.8],[17.1,3.3],[18.0,2.5],[18.6,1.1],[8.5,5.7],[8.7,5.0],[8.9,5.2],[9.0,4.6],[9.4,5.3],[9.6,5.5],[9.8,6.1],[10.1,6.4],[10.4,5.9],[10.6,5.0],[10.8,4.6],[11.0,4.9],[11.3,4.7],[11.6,4.3],[11.9,4.6],[12.1,4.4],[12.3,4.2],[12.5,4.4],[12.9,4.2],[13.1,4.6],[13.3,4.8],[13.6,4.5],[13.9,4.4],[14.2,5.0],[14.4,4.6],[14.7,5.4],[14.9,4.9],[15.1,4.3],[15.5,4.1],[15.7,4.5],[15.9,3.7],[16.2,3.6],[16.4,4.0],[16.8,4.2],[17.0,3.4],[17.4,2.6],[17.6,2.1],[17.8,1.6],[18.0,1.2],[18.2,1.1],[18.4,1.2],[18.5,0.8],[18.8,1.0],[19.1,1.5],[19.3,2.2],[19.6,5.0]];
const qeD = [[7.2,2.16],[7.33,2.04],[7.41,2.76],[7.59,2.28],[7.7,1.92],[7.81,2.52],[7.92,3.0],[8.02,2.76],[8.13,3.48],[8.24,3.24],[8.35,3.72],[8.46,3.96],[8.57,3.36],[8.68,4.2],[8.9,4.08],[9.11,3.96],[9.33,4.32],[9.55,4.2],[9.77,4.68],[9.98,4.44],[10.2,4.68],[10.42,4.92],[10.64,4.68],[10.75,5.16],[10.86,4.44],[11.07,4.92],[11.29,4.44],[11.51,4.68],[11.62,5.28],[11.73,4.32],[11.95,4.44],[12.16,4.2],[12.38,3.96],[12.6,3.72],[12.82,3.48],[12.93,3.96],[13.03,3.72],[13.25,3.48],[13.47,3.72],[13.69,3.96],[13.91,3.72],[14.12,3.96],[14.34,4.2],[14.56,4.44],[14.78,4.2],[15.0,4.68],[15.21,4.44],[15.43,4.68],[15.65,4.92],[15.87,5.16],[16.08,4.92],[16.3,5.4],[16.52,5.64],[16.74,5.88],[16.96,6.12],[17.18,6.36],[17.39,6.6],[17.61,6.84],[17.72,6.96],[17.83,6.6],[17.94,5.88],[18.05,4.92],[18.15,3.96],[18.26,2.52],[18.37,1.8],[18.59,1.32],[18.7,1.08],[18.92,0.84],[19.03,2.28],[19.14,3.0],[19.25,1.32],[19.35,2.04],[19.57,0.48],[19.96,1.51],[7.48,8.82],[9.0,3.7],[9.9,4.1],[10.5,4.3],[11.2,4.6],[12.0,4.0],[12.7,3.9],[13.4,4.1],[14.0,3.5],[14.7,4.5],[15.3,4.9],[16.0,5.2],[16.6,5.3],[17.3,6.1],[18.1,6.3],[7.5,2.5],[7.65,2.3],[7.85,2.2],[8.0,3.2],[8.3,3.5],[8.5,3.7],[8.8,3.9],[9.0,4.3],[9.2,4.1],[9.4,4.0],[9.7,4.3],[10.0,4.6],[10.3,4.4],[10.6,4.5],[10.9,4.7],[11.1,4.3],[11.4,4.6],[11.8,4.6],[12.1,4.4],[12.4,4.2],[12.5,3.8],[12.7,3.6],[13.0,3.5],[13.2,3.9],[13.5,3.9],[13.8,3.8],[14.0,4.1],[14.3,3.9],[14.5,4.1],[14.8,4.5],[15.1,4.4],[15.4,4.6],[15.6,4.7],[15.9,4.8],[16.2,5.1],[16.4,5.2],[16.6,5.5],[16.9,5.7],[17.1,6.0],[17.5,6.6],[17.7,6.7],[17.9,6.2],[18.0,5.4],[18.2,3.5],[18.3,2.1],[18.5,1.5],[18.8,1.0],[19.0,1.3],[19.1,2.6],[19.3,1.6]];

// ---------- DRAW ----------
const svg = d3.select("#c");
const FONT = "'Liberation Sans', Arial, sans-serif";
const defs = svg.append("defs");
const grad = defs.append("linearGradient").attr("id","bg").attr("x1",0).attr("y1",0).attr("x2",0).attr("y2",1);
[["0","#ffffff"],["0.08","#fefefe"],["0.48","#f3f3f3"],["1","#e6e6e6"]].forEach(s=>grad.append("stop").attr("offset",s[0]).attr("stop-color",s[1]));
svg.append("rect").attr("width",1314).attr("height",967).attr("fill","url(#bg)");

const xL = d3.scaleLinear().domain([7,20]).range([100,703]);
const xR = d3.scaleLinear().domain([7,20]).range([703,1300]);
const yT = d3.scaleLinear().domain([0,10]).range([468,50]);
const yB = d3.scaleLinear().domain([0,10]).range([885,468]);

const col = {ds:"#ee1530", dw:"#6a1016", de:"#f5982a", qs:"#1c1ce8", qw:"#9a35ee", qe:"#2b8a2b"};
const cross = d3.symbol().type(d3.symbolCross).size(33);
function plot(data, x, y, color){
  svg.append("g").selectAll("path").data(data).join("path")
    .attr("d", cross)
    .attr("transform", d=>`translate(${x(d[0]).toFixed(1)},${y(d[1]).toFixed(1)})`)
    .attr("fill", color).attr("opacity",0.95);
}
plot(dwA,xL,yT,col.dw); plot(deA,xL,yT,col.de); plot(dsA,xL,yT,col.ds);
plot(dwB,xR,yT,col.dw); plot(deB,xR,yT,col.de); plot(dsB,xR,yT,col.ds);
plot(qwC,xL,yB,col.qw); plot(qsC,xL,yB,col.qs); plot(qeC,xL,yB,col.qe);
plot(qwD,xR,yB,col.qw); plot(qsD,xR,yB,col.qs); plot(qeD,xR,yB,col.qe);

// ---------- AXES ----------
const quarter = d3.range(7,20.001,0.25).filter(v=>Math.abs(v-Math.round(v))>0.01);
const halves = d3.range(0.5,10,1);
function styleAxis(g){
  g.select(".domain").attr("stroke","#111").attr("stroke-width",2);
  g.selectAll(".tick line").attr("stroke","#111").attr("stroke-width",1.6);
  g.selectAll(".tick text").attr("font-family",FONT).attr("font-size",19).attr("fill","#222");
  return g;
}
function ax(gen, tx, ty){ return styleAxis(svg.append("g").attr("transform",`translate(${tx},${ty})`).call(gen)); }

[xL,xR].forEach((x,i)=>{
  const labels = i===0 ? hourLabelsLeft : hourLabelsRight;
  ax(d3.axisBottom(x).tickValues(hourTicks).tickSizeInner(9).tickSizeOuter(0).tickPadding(9).tickFormat((d,j)=>labels[j]),0,885);
  ax(d3.axisBottom(x).tickValues(quarter).tickSizeInner(5).tickSizeOuter(0).tickFormat(""),0,885);
  ax(d3.axisTop(x).tickValues(hourTicks).tickSizeInner(9).tickSizeOuter(0).tickFormat(""),0,50);
  ax(d3.axisTop(x).tickValues(quarter).tickSizeInner(5).tickSizeOuter(0).tickFormat(""),0,50);
  ax(d3.axisTop(x).tickValues(hourTicks).tickSizeInner(7).tickSizeOuter(0).tickFormat(""),0,468);
  ax(d3.axisBottom(x).tickValues(hourTicks).tickSizeInner(7).tickSizeOuter(0).tickFormat(""),0,468);
  ax(d3.axisTop(x).tickValues(quarter).tickSizeInner(4).tickSizeOuter(0).tickFormat(""),0,468);
  ax(d3.axisBottom(x).tickValues(quarter).tickSizeInner(4).tickSizeOuter(0).tickFormat(""),0,468);
});
[[yT,ratioLabelsTop],[yB,ratioLabelsBottom]].forEach(([y,labels])=>{
  ax(d3.axisLeft(y).tickValues(ratioTicks).tickSizeInner(8).tickSizeOuter(0).tickPadding(4).tickFormat((d,j)=>labels[j]),100,0);
  ax(d3.axisLeft(y).tickValues(halves).tickSizeInner(4).tickSizeOuter(0).tickFormat(""),100,0);
  ax(d3.axisLeft(y).tickValues(ratioTicks).tickSizeInner(7).tickSizeOuter(0).tickFormat(""),703,0);
  ax(d3.axisRight(y).tickValues(ratioTicks).tickSizeInner(7).tickSizeOuter(0).tickFormat(""),703,0);
  ax(d3.axisLeft(y).tickValues(halves).tickSizeInner(4).tickSizeOuter(0).tickFormat(""),703,0);
  ax(d3.axisRight(y).tickValues(halves).tickSizeInner(4).tickSizeOuter(0).tickFormat(""),703,0);
  ax(d3.axisRight(y).tickValues(ratioTicks).tickSizeInner(8).tickSizeOuter(0).tickFormat(""),1300,0);
  ax(d3.axisRight(y).tickValues(halves).tickSizeInner(4).tickSizeOuter(0).tickFormat(""),1300,0);
});

// ---------- TEXT ----------
function txt(x,y,s,o={}){
  const t = svg.append("text").attr("x",x).attr("y",y).text(s)
    .attr("font-family",FONT).attr("font-size",o.size||14).attr("fill",o.fill||"#222")
    .attr("font-weight",o.weight||"normal");
  if(o.anchor) t.attr("text-anchor",o.anchor);
  if(o.len) t.attr("textLength",o.len).attr("lengthAdjust",o.adj||"spacing");
  if(o.rot) t.attr("transform",`rotate(${o.rot},${x},${y})`);
  return t;
}
txt(32,228,"ASYMMETRY RATIO",{size:23,fill:"#444",anchor:"middle",rot:-90,len:262});
txt(32,643,"ASYMMETRY RATIO",{size:23,fill:"#444",anchor:"middle",rot:-90,len:262});
txt(301,961,"LOCAL TIME (h)",{size:20,fill:"#333",len:155});
txt(900,961,"LOCAL TIME (h)",{size:20,fill:"#333",len:155});

function title(xc, y, parts, ls){
  const t = svg.append("text").attr("x",xc).attr("y",y).attr("text-anchor","middle")
    .attr("font-family",FONT).attr("font-weight","bold").attr("font-size",21).attr("fill","#111")
    .attr("letter-spacing",ls);
  let shifted = false;
  parts.forEach(([s,sub])=>{
    const sp = t.append("tspan").text(s);
    if(sub){ sp.attr("font-size",10).attr("dy",shifted?0:11); shifted = true; }
    else { if(shifted){ sp.attr("dy",-11); shifted=false; } }
  });
}
title(458,30,[["EJP",false],["W",true],[" / ETP",false],["e",true]],2.2);
title(982,28,[["(EJP",false],["W",true],[" / EJP",false],["e",true],[") * (EJT",false],["e",true],[" / EJT",false],["W",true],[")",false]],1.6);
svg.append("line").attr("x1",828).attr("y1",10).attr("x2",836).attr("y2",0).attr("stroke","#e8381e").attr("stroke-width",3);
svg.append("line").attr("x1",1092).attr("y1",10).attr("x2",1100).attr("y2",0).attr("stroke","#e8381e").attr("stroke-width",3);

txt(109,89,"a",{size:24,weight:"bold",fill:"#111"}); txt(124,88,")",{size:20,fill:"#333"});
txt(713,89,"b",{size:24,weight:"bold",fill:"#111"}); txt(729,88,")",{size:20,fill:"#333"});
txt(109,516,"c",{size:22,weight:"bold",fill:"#111"}); txt(124,515,")",{size:20,fill:"#333"});
txt(713,521,"d",{size:22,weight:"bold",fill:"#111"}); txt(729,520,")",{size:20,fill:"#333"});

const confShapes = [d3.symbolSquare,d3.symbolCircle,d3.symbolTriangle];
function sym(x,y,type,size,color){
  svg.append("path").attr("d",d3.symbol().type(type).size(size)()).attr("transform",`translate(${x},${y})`).attr("fill",color);
}
const topCols = [col.ds,col.dw,col.de], botCols=[col.qs,col.qw,col.qe];
const rowA=[71,97,124], lensA=[214,204,216];
disturbedNames.forEach((n,i)=>{
  sym(152,rowA[i],d3.symbolCircle,62,topCols[i]);
  txt(181,rowA[i]+5,n,{size:14.5,weight:"bold",fill:"#1a1a1a",len:lensA[i]});
});
const rowC=[497,522,548], lensC=[160,150,162], xC=[183,183,190];
quietNames.forEach((n,i)=>{
  sym(155,rowC[i],d3.symbolCircle,62,botCols[i]);
  svg.append("rect").attr("x",xC[i]-6).attr("y",rowC[i]-10).attr("width",lensC[i]+12).attr("height",20).attr("fill","#fff");
  txt(xC[i],rowC[i]+5,n,{size:14,weight:"bold",fill:"#1a1a1a",len:lensC[i]});
});
function confLegend(x0,rows,vals,cols,len,box,size){
  if(box) svg.append("rect").attr("x",x0+18).attr("y",rows[0]-11).attr("width",len+10).attr("height",rows[2]-rows[0]+22).attr("fill","#fff");
  vals.forEach((v,i)=>{
    sym(x0,rows[i],confShapes[i],40,cols[i]);
    txt(x0+21,rows[i]+4,"98 % Conf.:± "+v,{size:size,fill:"#222",len:len});
  });
}
confLegend(519,[72,92,112],confA,topCols,100,false,12.5);
confLegend(824,[72,93,113],confB,topCols,126,false,15);
confLegend(323,[826,846,866],confC,botCols,127,true,15);
confLegend(938,[826,846,866],confD,botCols,130,true,15);
</script></body></html>
